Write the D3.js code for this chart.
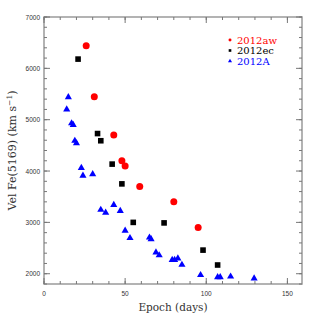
<!DOCTYPE html>
<html>
<head>
<meta charset="utf-8">
<script src="https://cdn.jsdelivr.net/npm/d3@7"></script>
<style>
  body { margin: 0; background: #fff; }
  svg text { font-family: "DejaVu Serif", "Liberation Serif", serif; }
</style>
</head>
<body>
<script>
// 2012aw
var awEpoch = [26, 31, 43, 48, 50, 59, 80, 95];
var awVel   = [6440, 5445, 4700, 4200, 4100, 3700, 3400, 2900];
// 2012ec
var ecEpoch = [21, 33, 35, 42, 48, 55, 74, 98, 107];
var ecVel   = [6180, 4730, 4590, 4135, 3750, 3000, 2990, 2460, 2170];
// 2012A
var aEpoch = [15, 14, 17, 18, 19, 20, 23, 24, 30, 35, 38, 43, 47, 50, 53, 65, 66, 69, 71, 79, 80.5, 82.5, 85, 96.5, 107, 108.6, 115, 129.5];
var aVel   = [5440, 5200, 4930, 4900, 4590, 4540, 4060, 3910, 3940, 3245, 3190, 3340, 3225, 2840, 2695, 2705, 2675, 2415, 2360, 2270, 2270, 2300, 2175, 1975, 1935, 1935, 1945, 1910];

var xTicks = [0, 50, 100, 150];
var yTicks = [2000, 3000, 4000, 5000, 6000, 7000];
var seriesNames = ["2012aw", "2012ec", "2012A"];
var seriesColors = ["#ff0000", "#000000", "#0000ff"];

var width = 319, height = 319;
var margin = {left: 44, top: 17, right: 17, bottom: 35};

var svg = d3.select("body").append("svg").attr("width", width).attr("height", height);

var x = d3.scaleLinear().domain([0, 159]).range([margin.left, width - margin.right]);
var y = d3.scaleLinear().domain([1800, 7000]).range([height - margin.bottom, margin.top]);

var frameColor = "#9a9a9a";
var tickColor = "#777";

// frame
svg.append("rect")
  .attr("x", x(0)).attr("y", y(7000))
  .attr("width", x(159) - x(0)).attr("height", y(1800) - y(7000))
  .attr("fill", "none").attr("stroke", frameColor).attr("stroke-width", 1.5);

var xMinor = d3.range(0, 160, 10);
var yMinor = d3.range(1800, 7001, 200);

function ticksH(vals, len, yPos, dir) {
  svg.append("g").selectAll("line").data(vals).enter().append("line")
    .attr("x1", function(d) { return x(d); }).attr("x2", function(d) { return x(d); })
    .attr("y1", yPos).attr("y2", yPos + dir * len)
    .attr("stroke", tickColor).attr("stroke-width", 1);
}
function ticksV(vals, len, xPos, dir) {
  svg.append("g").selectAll("line").data(vals).enter().append("line")
    .attr("y1", function(d) { return y(d); }).attr("y2", function(d) { return y(d); })
    .attr("x1", xPos).attr("x2", xPos + dir * len)
    .attr("stroke", tickColor).attr("stroke-width", 1);
}
ticksH(xMinor, 3, y(1800), -1);
ticksH(xMinor, 3, y(7000), 1);
ticksH(xTicks, 6, y(1800), -1);
ticksH(xTicks, 6, y(7000), 1);
ticksV(yMinor, 3, x(0), 1);
ticksV(yMinor, 3, x(159), -1);
ticksV(yTicks, 6, x(0), 1);
ticksV(yTicks, 6, x(159), -1);

// tick labels
svg.append("g").selectAll("text").data(xTicks).enter().append("text")
  .attr("x", function(d) { return x(d); }).attr("y", y(1800) + 12)
  .attr("text-anchor", "middle")
  .style("font-family", "'Liberation Sans', sans-serif").style("font-size", "6.5px").attr("fill", "#333")
  .text(function(d) { return d; });
svg.append("g").selectAll("text").data(yTicks).enter().append("text")
  .attr("x", x(0) - 4).attr("y", function(d) { return y(d) + 2.5; })
  .attr("text-anchor", "end")
  .style("font-family", "'Liberation Sans', sans-serif").style("font-size", "6.5px").attr("fill", "#333")
  .text(function(d) { return d; });

// axis titles
svg.append("text")
  .attr("x", (x(0) + x(159)) / 2).attr("y", 311)
  .attr("text-anchor", "middle").style("font-size", "10.5px").attr("fill", "#333")
  .text("Epoch (days)");

var yl = svg.append("text")
  .attr("transform", "translate(16," + ((y(1800) + y(7000)) / 2) + ") rotate(-90)")
  .attr("text-anchor", "middle").style("font-size", "11px").attr("fill", "#333");
yl.append("tspan").text("Vel Fe(5169) (km s");
yl.append("tspan").attr("dy", -4).style("font-size", "7.5px").text("\u22121");
yl.append("tspan").attr("dy", 4).text(")");

// data
var aw = awEpoch.map(function(d, i) { return [d, awVel[i]]; });
var ec = ecEpoch.map(function(d, i) { return [d, ecVel[i]]; });
var a  = aEpoch.map(function(d, i) { return [d, aVel[i]]; });

svg.append("g").selectAll("circle").data(aw).enter().append("circle")
  .attr("cx", function(d) { return x(d[0]); })
  .attr("cy", function(d) { return y(d[1]); })
  .attr("r", 3.5).attr("fill", seriesColors[0]);

svg.append("g").selectAll("rect").data(ec).enter().append("rect")
  .attr("x", function(d) { return x(d[0]) - 2.8; })
  .attr("y", function(d) { return y(d[1]) - 2.8; })
  .attr("width", 5.6).attr("height", 5.6).attr("fill", seriesColors[1]);

var tri = d3.symbol().type(d3.symbolTriangle).size(22);
svg.append("g").selectAll("path").data(a).enter().append("path")
  .attr("transform", function(d) { return "translate(" + x(d[0]) + "," + y(d[1]) + ")"; })
  .attr("d", tri).attr("fill", seriesColors[2]);

// legend
var legendSymbols = [d3.symbolCircle, d3.symbolSquare, d3.symbolTriangle];
var leg = svg.append("g").selectAll("g").data(seriesNames).enter().append("g")
  .attr("transform", function(d, i) { return "translate(230," + (40 + i * 10.5) + ")"; });
leg.append("path")
  .attr("d", function(d, i) { return d3.symbol().type(legendSymbols[i]).size(7)(); })
  .attr("fill", function(d, i) { return seriesColors[i]; });
leg.append("text")
  .attr("x", 7).attr("y", 3.5)
  .style("font-size", "10px")
  .attr("fill", function(d, i) { return seriesColors[i]; })
  .text(function(d) { return d; });
</script>
</body>
</html>
